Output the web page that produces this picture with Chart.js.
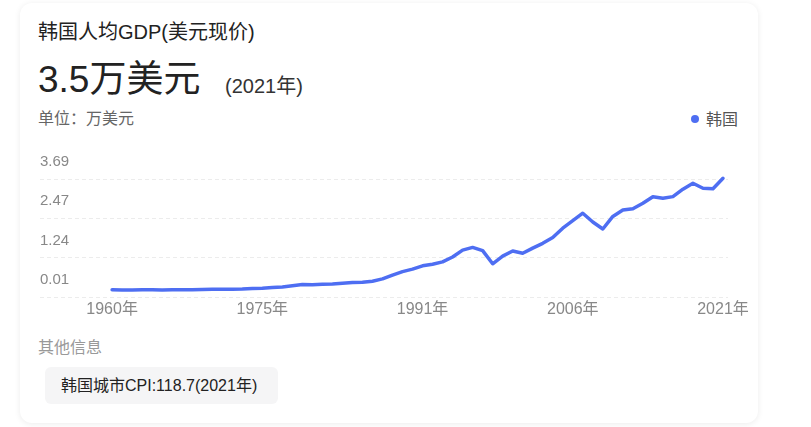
<!DOCTYPE html>
<html>
<head>
<meta charset="utf-8">
<script src="https://cdn.jsdelivr.net/npm/chart.js@4"></script>
<style>
  html, body { margin: 0; padding: 0; background: #fff; }
  body { width: 811px; height: 427px; position: relative; overflow: hidden;
         font-family: "Liberation Sans", Arial, "Noto Sans CJK SC", sans-serif; }
  .card { position: absolute; left: 20px; top: 3px; width: 738px; height: 420px;
          border-radius: 12px; background: #fff;
          box-shadow: 0 1px 6px rgba(0, 0, 0, 0.08); }
  .t { position: absolute; white-space: nowrap; line-height: 1; }
  #title { left: 38px; top: 22px; font-size: 20px; color: #222; }
  #big { left: 38px; top: 61px; font-size: 37px; color: #222; }
  #year { left: 225px; top: 76px; font-size: 20px; color: #333; }
  #unit { left: 38px; top: 111px; font-size: 16px; color: #666; }
  #legend { left: 691px; top: 112px; font-size: 16px; color: #555; }
  #legend i { display: inline-block; width: 8px; height: 8px; border-radius: 50%;
              background: #4e6ef2; margin-right: 7px; vertical-align: 2px; }
  #more { left: 38px; top: 340px; font-size: 16px; color: #999; }
  #tag { position: absolute; left: 45px; top: 367px; width: 233px; height: 37px;
         background: #f5f5f6; border-radius: 6px; }
  #tag span { position: absolute; left: 16px; top: 10.5px; font-size: 16px; color: #222;
              line-height: 1; white-space: nowrap; }
  #wrap { position: absolute; left: 20px; top: 135px; width: 738px; height: 195px; }
</style>
</head>
<body>
<div class="card"></div>
<div class="t" id="title">韩国人均GDP(美元现价)</div>
<div class="t" id="big">3.5万美元</div>
<div class="t" id="year">(2021年)</div>
<div class="t" id="unit">单位：万美元</div>
<div class="t" id="legend"><i></i>韩国</div>
<div id="wrap"><canvas id="c"></canvas></div>
<div class="t" id="more">其他信息</div>
<div id="tag"><span>韩国城市CPI:118.7(2021年)</span></div>

<script>
// 年份
const years = [
  1960, 1961, 1962, 1963, 1964, 1965, 1966, 1967, 1968, 1969,
  1970, 1971, 1972, 1973, 1974, 1975, 1976, 1977, 1978, 1979,
  1980, 1981, 1982, 1983, 1984, 1985, 1986, 1987, 1988, 1989,
  1990, 1991, 1992, 1993, 1994, 1995, 1996, 1997, 1998, 1999,
  2000, 2001, 2002, 2003, 2004, 2005, 2006, 2007, 2008, 2009,
  2010, 2011, 2012, 2013, 2014, 2015, 2016, 2017, 2018, 2019,
  2020, 2021
]

// 人均GDP, 万美元
const gdpKorea = [
  0.0158, 0.0094, 0.0106, 0.0146, 0.0123, 0.0108, 0.0133, 0.0161, 0.0198, 0.0243,
  0.0279, 0.0301, 0.0324, 0.0406, 0.0563, 0.0617, 0.0834, 0.1055, 0.1405, 0.1783,
  0.1715, 0.1883, 0.1993, 0.2199, 0.2413, 0.2482, 0.2835, 0.3555, 0.4749, 0.5817,
  0.6610, 0.7637, 0.8127, 0.8885, 1.0385, 1.2565, 1.3403, 1.2398, 0.8282, 1.0672,
  1.2257, 1.1561, 1.3165, 1.4673, 1.6496, 1.9403, 2.1743, 2.4086, 2.1350, 1.9144,
  2.3087, 2.5096, 2.5459, 2.7180, 2.9253, 2.8737, 2.9274, 3.1601, 3.3447, 3.1902,
  3.1721, 3.4998
]

const xTickYears = [1960, 1975, 1991, 2006, 2021]
const yTickValues = [0.01, 1.24, 2.47, 3.69]

const blue = '#4e6ef2'
const axisGray = '#888'
const Y_MIN = -0.22
const Y_MAX = 4.51
const GRID_SHIFT = 0.23 // dotted lines sit a bit below each label

Chart.defaults.font.family = '"Liberation Sans", Arial, "Noto Sans CJK SC", sans-serif'

const points = years.map((y, i) => ({ x: y, y: gdpKorea[i] }))

new Chart(document.getElementById('c'), {
  type: 'line',
  data: {
    datasets: [{
      label: '韩国',
      data: points,
      borderColor: blue,
      backgroundColor: blue,
      borderWidth: 3.5,
      pointRadius: 0,
      tension: 0,
      borderJoinStyle: 'round',
      borderCapStyle: 'round'
    }]
  },
  options: {
    responsive: true,
    maintainAspectRatio: false,
    animation: false,
    layout: { padding: { left: 20, right: 30, top: 11, bottom: 7.5 } },
    plugins: {
      legend: { display: false },
      tooltip: { enabled: false }
    },
    scales: {
      x: {
        type: 'linear',
        min: 1952.8,
        max: 2021.5,
        afterBuildTicks: s => { s.ticks = xTickYears.map(v => ({ value: v })) },
        ticks: {
          callback: v => v + '年',
          color: axisGray,
          font: { size: 16 },
          padding: 3,
          maxRotation: 0,
          autoSkip: false
        },
        grid: { display: false, drawTicks: false },
        border: { display: false }
      },
      y: {
        position: 'left',
        min: Y_MIN,
        max: Y_MAX,
        afterBuildTicks: s => { s.ticks = yTickValues.map(v => ({ value: v })) },
        ticks: {
          mirror: true,
          padding: 0,
          labelOffset: -10,
          color: axisGray,
          font: { size: 15 },
          callback: v => v.toFixed(2)
        },
        grid: { display: false, drawTicks: false },
        border: { display: false }
      },
      yg: {
        position: 'left',
        min: Y_MIN,
        max: Y_MAX,
        afterBuildTicks: s => { s.ticks = yTickValues.map(v => ({ value: v - GRID_SHIFT })) },
        ticks: { display: false, padding: 0 },
        grid: { color: '#ececec', lineWidth: 1, drawTicks: false, borderDash: [4, 3] },
        border: { display: false, dash: [4, 3] }
      }
    }
  }
})
</script>
</body>
</html>
